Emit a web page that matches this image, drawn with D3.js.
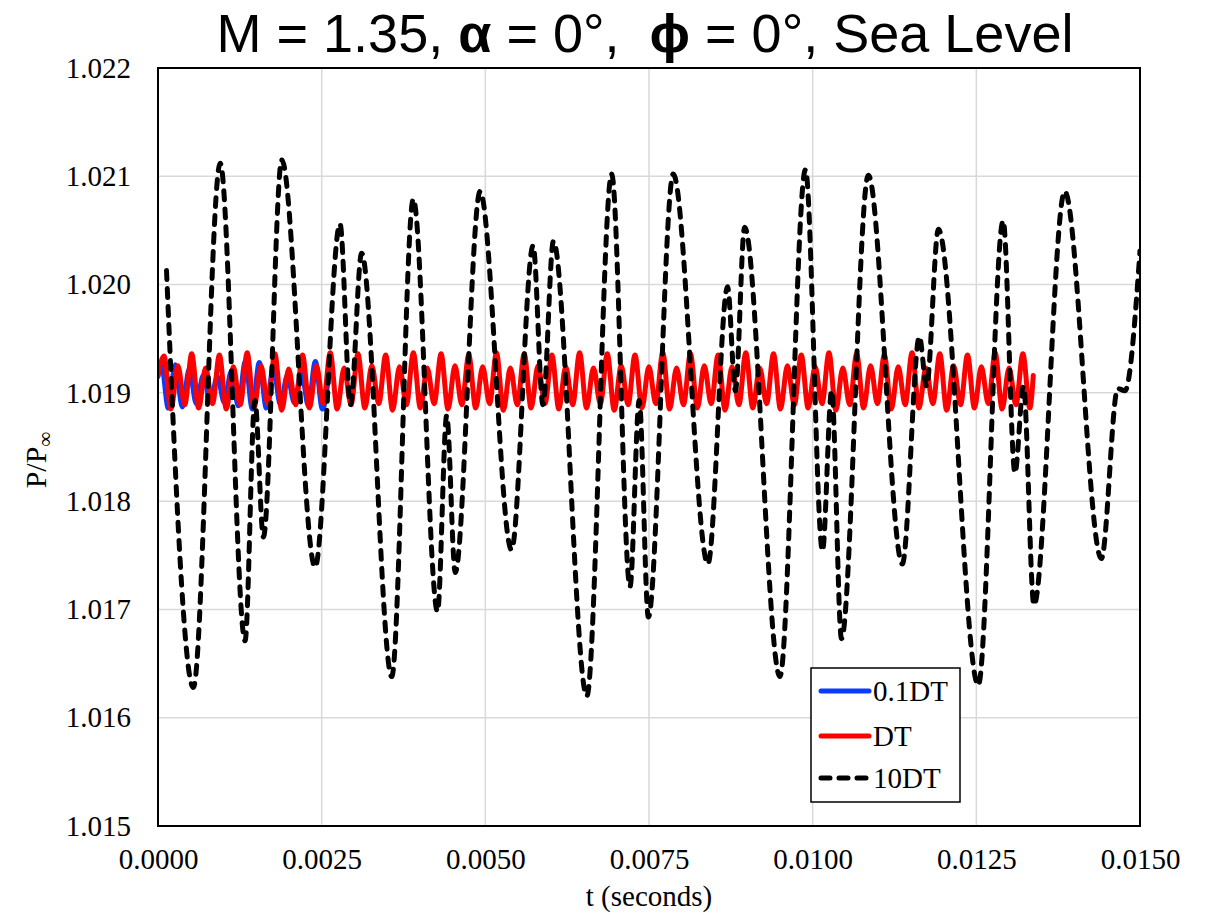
<!DOCTYPE html>
<html><head><meta charset="utf-8">
<script src="https://cdn.jsdelivr.net/npm/d3@7"></script>
<style>body{margin:0;background:#fff}</style>
</head><body><svg id="c" width="1211" height="915"></svg>
<script>
const xTicks = [0, 0.0025, 0.005, 0.0075, 0.01, 0.0125, 0.015];
const yTicks = [1.015, 1.016, 1.017, 1.018, 1.019, 1.020, 1.021, 1.022];
const seriesNames = ["0.1DT", "DT", "10DT"];
const seriesColors = ["#0a3cff", "#ff0000", "#000000"];

const blueT = [0, 0.000050, 0.000157, 0.000264, 0.000371, 0.000478, 0.000585, 0.000692, 0.000799, 0.000906, 0.001013,
  0.001120, 0.001227, 0.001334, 0.001441, 0.001548, 0.001655, 0.001762, 0.001869, 0.001976, 0.002083,
  0.002190, 0.002297, 0.002404, 0.002511, 0.002618];
const blueV = [1.01915, 1.01928, 1.01886, 1.01926, 1.01887, 1.01922, 1.01890, 1.01916, 1.01892, 1.01915, 1.01891,
  1.01920, 1.01888, 1.01929, 1.01885, 1.01928, 1.01886, 1.01924, 1.01889, 1.01916, 1.01891,
  1.01920, 1.01888, 1.01929, 1.01885, 1.01922];

const redT = [0, 0.000092, 0.000198, 0.000304, 0.000409, 0.000515, 0.000621, 0.000727, 0.000833, 0.000938, 0.001044,
  0.001150, 0.001256, 0.001362, 0.001467, 0.001573, 0.001679, 0.001785, 0.001891, 0.001996, 0.002102,
  0.002208, 0.002314, 0.002420, 0.002525, 0.002631, 0.002737, 0.002843, 0.002949, 0.003054, 0.003160,
  0.003266, 0.003372, 0.003478, 0.003583, 0.003689, 0.003795, 0.003901, 0.004007, 0.004112, 0.004218,
  0.004324, 0.004430, 0.004536, 0.004641, 0.004747, 0.004853, 0.004959, 0.005065, 0.005170, 0.005276,
  0.005382, 0.005488, 0.005594, 0.005699, 0.005805, 0.005911, 0.006017, 0.006123, 0.006228, 0.006334,
  0.006440, 0.006546, 0.006652, 0.006757, 0.006863, 0.006969, 0.007075, 0.007181, 0.007286, 0.007392,
  0.007498, 0.007604, 0.007710, 0.007815, 0.007921, 0.008027, 0.008133, 0.008239, 0.008344, 0.008450,
  0.008556, 0.008662, 0.008768, 0.008873, 0.008979, 0.009085, 0.009191, 0.009297, 0.009402, 0.009508,
  0.009614, 0.009720, 0.009826, 0.009931, 0.010037, 0.010143, 0.010249, 0.010355, 0.010460, 0.010566,
  0.010672, 0.010778, 0.010884, 0.010989, 0.011095, 0.011201, 0.011307, 0.011413, 0.011518, 0.011624,
  0.011730, 0.011836, 0.011942, 0.012047, 0.012153, 0.012259, 0.012365, 0.012471, 0.012576, 0.012682,
  0.012788, 0.012894, 0.013000, 0.013105, 0.013211, 0.013317, 0.013370];
const redV = [1.01916, 1.01934, 1.01885, 1.01925, 1.01889, 1.01936, 1.01886, 1.01923, 1.01890, 1.01935, 1.01885,
  1.01924, 1.01889, 1.01937, 1.01886, 1.01925, 1.01890, 1.01936, 1.01884, 1.01922, 1.01889,
  1.01935, 1.01886, 1.01925, 1.01890, 1.01937, 1.01885, 1.01923, 1.01889, 1.01936, 1.01886,
  1.01925, 1.01890, 1.01935, 1.01884, 1.01924, 1.01889, 1.01937, 1.01886, 1.01923, 1.01890,
  1.01936, 1.01885, 1.01925, 1.01889, 1.01935, 1.01886, 1.01924, 1.01890, 1.01937, 1.01884,
  1.01923, 1.01889, 1.01936, 1.01886, 1.01925, 1.01890, 1.01935, 1.01885, 1.01924, 1.01889,
  1.01937, 1.01886, 1.01923, 1.01890, 1.01936, 1.01884, 1.01925, 1.01889, 1.01935, 1.01886,
  1.01924, 1.01890, 1.01937, 1.01885, 1.01923, 1.01889, 1.01936, 1.01886, 1.01925, 1.01890,
  1.01935, 1.01884, 1.01924, 1.01889, 1.01937, 1.01886, 1.01923, 1.01890, 1.01936, 1.01885,
  1.01925, 1.01889, 1.01935, 1.01886, 1.01924, 1.01890, 1.01937, 1.01884, 1.01923, 1.01889,
  1.01936, 1.01886, 1.01925, 1.01890, 1.01935, 1.01885, 1.01924, 1.01889, 1.01937, 1.01886,
  1.01923, 1.01890, 1.01936, 1.01884, 1.01925, 1.01889, 1.01935, 1.01886, 1.01924, 1.01890,
  1.01937, 1.01885, 1.01923, 1.01889, 1.01936, 1.01886, 1.01916];

const blackT = [0.00013, 0.00054, 0.00095, 0.00133, 0.00148, 0.00161, 0.00189, 0.00240, 0.00278, 0.00294,
  0.00311, 0.00357, 0.00390, 0.00427, 0.00441, 0.00454, 0.00492, 0.00540, 0.00573, 0.00588,
  0.00604, 0.00655, 0.00693, 0.00721, 0.00735, 0.00749, 0.00787, 0.00840, 0.00870, 0.00882,
  0.00896, 0.00950, 0.00989, 0.01015, 0.01029, 0.01044, 0.01085, 0.01137, 0.01163, 0.01174,
  0.01192, 0.01253, 0.01291, 0.01309, 0.01322, 0.01338, 0.01385, 0.01441, 0.01466, 0.01477, 0.01500];
const blackV = [1.02013, 1.01628, 1.02112, 1.01671, 1.01893, 1.01767, 1.02115, 1.01739, 1.02056, 1.01889,
  1.02029, 1.01638, 1.02079, 1.01698, 1.01879, 1.01734, 1.02086, 1.01755, 1.02036, 1.01889,
  1.02040, 1.01620, 1.02102, 1.01721, 1.01893, 1.01693, 1.02102, 1.01742, 1.01998, 1.01902,
  1.02053, 1.01638, 1.02106, 1.01754, 1.01902, 1.01673, 1.02101, 1.01742, 1.01952, 1.01906,
  1.02051, 1.01630, 1.02059, 1.01826, 1.01906, 1.01704, 1.02086, 1.01747, 1.01904, 1.01902, 1.02031];

const L = 158, R = 1140, T = 68, B = 826;
const svg = d3.select("#c");
const x = d3.scaleLinear().domain([0, 0.015]).range([L, R]);
const y = d3.scaleLinear().domain([1.015, 1.022]).range([B, T]);
const serif = "'Liberation Serif','Times New Roman',serif";

// gridlines
svg.append("g").selectAll("line").data(yTicks).join("line")
  .attr("x1", L).attr("x2", R).attr("y1", d => y(d)).attr("y2", d => y(d))
  .attr("stroke", "#d9d9d9").attr("stroke-width", 1.5);
svg.append("g").selectAll("line").data(xTicks).join("line")
  .attr("y1", T).attr("y2", B).attr("x1", d => x(d)).attr("x2", d => x(d))
  .attr("stroke", "#d9d9d9").attr("stroke-width", 1.5);

svg.append("defs").append("clipPath").attr("id", "clip")
  .append("rect").attr("x", L).attr("y", T - 3).attr("width", R - L).attr("height", B - T + 6);

const mk = d3.line().x(d => x(d[0])).y(d => y(d[1])).curve(d3.curveMonotoneX);

const series = [
  { t: blueT, v: blueV, c: seriesColors[0], dash: null },
  { t: redT, v: redV, c: seriesColors[1], dash: null },
  { t: blackT, v: blackV, c: seriesColors[2], dash: "9,9" }
];
const gl = svg.append("g").attr("clip-path", "url(#clip)");
series.forEach(s => {
  const pts = s.t.map((t, i) => [t, s.v[i]]);
  gl.append("path").attr("d", mk(pts)).attr("fill", "none")
    .attr("stroke", s.c).attr("stroke-width", 5)
    .attr("stroke-linecap", "round").attr("stroke-linejoin", "round")
    .attr("stroke-dasharray", s.dash);
});

// border
svg.append("rect").attr("x", L).attr("y", T).attr("width", R - L).attr("height", B - T)
  .attr("fill", "none").attr("stroke", "#000").attr("stroke-width", 2);

// axes
const ax = svg.append("g").attr("transform", `translate(0,${B})`)
  .call(d3.axisBottom(x).tickValues(xTicks).tickSize(0).tickPadding(22).tickFormat(d3.format(".4f")));
ax.select(".domain").remove();
ax.selectAll("text").attr("font-family", serif).attr("font-size", 29).attr("fill", "#000");

const ay = svg.append("g").attr("transform", `translate(${L},0)`)
  .call(d3.axisLeft(y).tickValues(yTicks).tickSize(0).tickPadding(27).tickFormat(d3.format(".3f")));
ay.select(".domain").remove();
ay.selectAll("text").attr("font-family", serif).attr("font-size", 29).attr("fill", "#000");

// titles
const title = svg.append("text").attr("x", 645).attr("y", 52).attr("text-anchor", "middle")
  .attr("font-family", "'Liberation Sans',Arial,sans-serif").attr("font-size", 54).attr("fill", "#000")
  .style("white-space", "pre");
title.append("tspan").text("M = 1.35, ");
title.append("tspan").attr("font-weight", "bold").text("α");
title.append("tspan").text(" = 0°,\u00A0 ");
title.append("tspan").attr("font-weight", "bold").text("ϕ");
title.append("tspan").text(" = 0°, Sea Level");

svg.append("text").attr("x", (L + R) / 2).attr("y", 906).attr("text-anchor", "middle")
  .attr("font-family", serif).attr("font-size", 29).text("t (seconds)");

const yl = svg.append("text").attr("transform", "translate(46,460) rotate(-90)")
  .attr("text-anchor", "middle").attr("font-family", serif).attr("font-size", 30);
yl.append("tspan").text("P/P");
yl.append("tspan").attr("font-size", 21).attr("dy", 6).text("∞");

// legend
const lg = svg.append("g");
lg.append("rect").attr("x", 811).attr("y", 668).attr("width", 149).attr("height", 134)
  .attr("fill", "#fff").attr("stroke", "#000").attr("stroke-width", 1.5);
const rowsY = [691, 736, 778];
seriesNames.forEach((n, i) => {
  lg.append("line").attr("x1", 821).attr("x2", 869).attr("y1", rowsY[i]).attr("y2", rowsY[i])
    .attr("stroke", seriesColors[i]).attr("stroke-width", 5).attr("stroke-linecap", "round")
    .attr("stroke-dasharray", i === 2 ? "9,9" : null);
  lg.append("text").attr("x", 873).attr("y", rowsY[i] + 10).attr("font-family", serif)
    .attr("font-size", 29).text(n);
});
</script></body></html>
